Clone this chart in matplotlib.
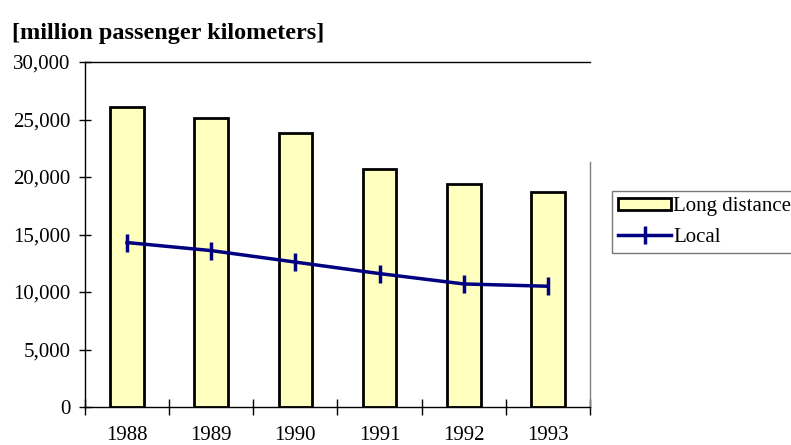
import matplotlib
matplotlib.use("Agg")
import matplotlib.pyplot as plt
from matplotlib.lines import Line2D
from matplotlib.ticker import FuncFormatter

years = ["1988", "1989", "1990", "1991", "1992", "1993"]
long_distance = [26100, 25100, 23800, 20700, 19400, 18700]
local = [14300, 13600, 12600, 11600, 10700, 10500]

plt.rcParams['font.family'] = ['Liberation Serif', 'DejaVu Serif']

fig = plt.figure(figsize=(7.91, 4.45), dpi=100)
ax = fig.add_axes([85/791, 38/445, 505/791, 345/445])

x = list(range(len(years)))
bars = ax.bar(x, long_distance, width=0.4, color='#FFFFC0', edgecolor='black', linewidth=2,
              label='Long distance', zorder=2)
line, = ax.plot(x, local, color='#000080', linewidth=2.5, marker='|', markersize=13,
                markeredgewidth=2.5, label='Local', zorder=3)

ax.set_xlim(-0.5, len(years) - 0.5)
ax.set_ylim(0, 30000)
ax.set_yticks(range(0, 30001, 5000))
ax.yaxis.set_major_formatter(FuncFormatter(lambda v, p: f"{int(v):,}"))
ax.tick_params(axis='y', direction='inout', length=9, width=1, labelsize=15, pad=6)

ax.set_xticks(x)
ax.set_xticklabels(years)
ax.set_xticks([i + 0.5 for i in range(-1, len(years))], minor=True)
ax.tick_params(axis='x', which='major', length=0, labelsize=15, pad=14)
ax.tick_params(axis='x', which='minor', direction='inout', length=12, width=1)

for s in ['left', 'bottom', 'top']:
    ax.spines[s].set_color('black')
    ax.spines[s].set_linewidth(1)
ax.spines['right'].set_visible(False)
ax.add_line(Line2D([1, 1], [0, 0.71], transform=ax.transAxes, color='#808080',
                   linewidth=1, clip_on=False))

fig.text(12/791, 1 - 33/445, "[million passenger kilometers]", fontsize=17.5,
         fontweight='bold', va='center', ha='left')

leg = ax.legend([bars, line], ['Long distance', 'Local'],
                loc='upper left', bbox_to_anchor=(612/791, 1 - 191/445),
                bbox_transform=fig.transFigure, fontsize=15, frameon=True,
                fancybox=False, handlelength=2.55, handleheight=0.55, handletextpad=0.08,
                borderpad=0.3, labelspacing=0.55, borderaxespad=0)
leg.get_frame().set_edgecolor('#555555')
leg.get_frame().set_linewidth(1)

fig.savefig("out.png", dpi=100)
